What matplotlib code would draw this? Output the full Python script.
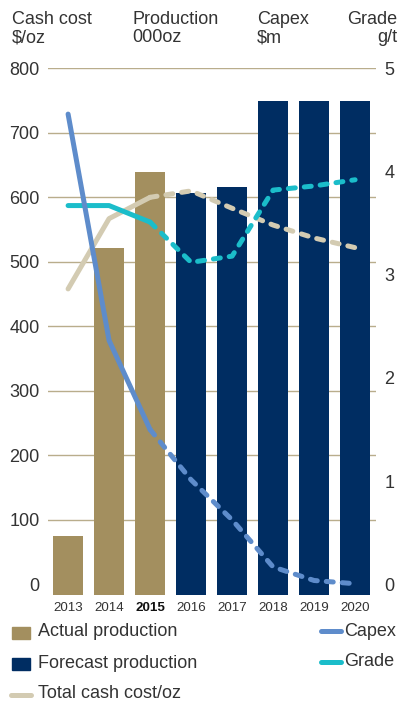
import matplotlib
matplotlib.use("Agg")
import matplotlib.pyplot as plt
from matplotlib.patches import Rectangle
from matplotlib.lines import Line2D

years = ["2013", "2014", "2015", "2016", "2017", "2018", "2019", "2020"]
production = [75, 521, 640, 606, 616, 750, 750, 750]
actual_count = 3  # first three bars are actual production
capex = [729, 378, 240, 162, 100, 27, 6, 1]
grade = [3.67, 3.67, 3.51, 3.12, 3.18, 3.82, 3.86, 3.92]
cash_cost = [458, 567, 600, 610, 583, 557, 537, 522]
left_ticks = [0, 100, 200, 300, 400, 500, 600, 700, 800]
right_ticks = [0, 1, 2, 3, 4, 5]

TAN = "#A38F5F"
NAVY = "#002D62"
BLUE = "#5E8CCB"
CYAN = "#1BBDCA"
BEIGE = "#D3CBB2"
GRID = "#B9AD8C"
TXT = "#333333"
FONT = "Liberation Sans"
plt.rcParams["font.family"] = [FONT, "DejaVu Sans"]

W, H = 400, 704
fig = plt.figure(figsize=(W / 100, H / 100), dpi=100)
ybot = -16.5
ax = fig.add_axes([48 / W, 1 - 595 / H, (376 - 48) / W, (595 - 68.3) / H])
ax.set_xlim(-0.49, 7.51)
ax.set_ylim(ybot, 800)

x = list(range(len(years)))
for i in x:
    col = TAN if i < actual_count else NAVY
    ax.bar(i, production[i] - ybot, bottom=ybot, width=0.73, color=col, zorder=2)

for t in left_ticks[1:]:
    ax.axhline(t, color=GRID, lw=1.0, zorder=1)

ax2 = ax.twinx()
ax2.set_ylim(ybot / 160, 5)
ax2.set_position(ax.get_position())

lw = 3.6
dash = (1.4, 1.8)
def draw(axis, vals, color, z):
    axis.plot(x[:3], vals[:3], color=color, lw=lw, solid_capstyle="round",
              solid_joinstyle="round", zorder=z)
    ln, = axis.plot(x[2:], vals[2:], color=color, lw=lw, dash_capstyle="round",
                    dash_joinstyle="round", zorder=z)
    ln.set_dashes(dash)

draw(ax, cash_cost, BEIGE, 3)
ax2.set_zorder(ax.get_zorder() + 1)
ax2.patch.set_visible(False)
draw(ax2, grade, CYAN, 4)
# capex on top, drawn on ax2 using left-axis scale conversion via twin of ax
ax3 = ax.twinx()
ax3.set_ylim(ybot, 800)
ax3.set_zorder(ax2.get_zorder() + 1)
ax3.patch.set_visible(False)
ax3.axis("off")
draw(ax3, capex, BLUE, 5)

for a in (ax, ax2):
    for s in a.spines.values():
        s.set_visible(False)

ax.set_yticks(left_ticks)
ax.set_yticklabels([str(t) for t in left_ticks], fontsize=13, color=TXT)
ax.tick_params(axis="y", length=0, pad=6)
ax2.set_yticks(right_ticks)
ax2.set_yticklabels([str(t) for t in right_ticks], fontsize=13, color=TXT)
ax2.tick_params(axis="y", length=0, pad=6)

ax.set_xticks(x)
ax.set_xticklabels(years, fontsize=9.6, color=TXT)
ax.tick_params(axis="x", length=0, pad=5)
for lbl in ax.get_xticklabels():
    if lbl.get_text() == "2015":
        lbl.set_fontweight("bold")
        lbl.set_color("#111111")

def ftext(px, py, s, ha="left", size=13):
    fig.text(px / W, 1 - py / H, s, ha=ha, va="center", fontsize=size, color=TXT)

ftext(12, 19, "Cash cost")
ftext(12, 38, "$/oz")
ftext(132, 19, "Production")
ftext(132, 38, "000oz")
ftext(257, 19, "Capex")
ftext(257, 38, "$m")
ftext(397, 19, "Grade", ha="right")
ftext(397, 38, "g/t", ha="right")

def square(px, py, color):
    fig.patches.append(Rectangle((px / W, 1 - (py + 6) / H), 18 / W, 12 / H,
                                 transform=fig.transFigure, color=color))

def lpatch(px, py, color):
    fig.lines.append(Line2D([px / W, (px + 20) / W], [1 - py / H, 1 - py / H],
                            transform=fig.transFigure, color=color, lw=3.6,
                            solid_capstyle="round"))

square(12, 633, TAN)
ftext(38, 632, "Actual production")
square(12, 664, NAVY)
ftext(38, 663, "Forecast production")
lpatch(11, 695, BEIGE)
ftext(38, 694, "Total cash cost/oz")
lpatch(321, 631, BLUE)
ftext(344, 631, "Capex")
lpatch(321, 662, CYAN)
ftext(344, 662, "Grade")

fig.savefig("out.png", dpi=100)
